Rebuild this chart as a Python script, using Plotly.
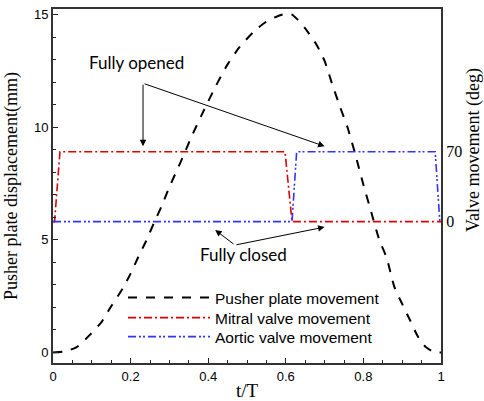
import plotly.graph_objects as go

# ---- data ----
t_pusher = [0, 0.03, 0.06, 0.095, 0.125, 0.15, 0.18, 0.2, 0.22, 0.24, 0.26, 0.28, 0.3,
            0.33, 0.36, 0.39, 0.42, 0.45, 0.48, 0.52, 0.55, 0.58, 0.6, 0.615, 0.63, 0.65,
            0.68, 0.7, 0.72, 0.74, 0.76, 0.78, 0.8, 0.82, 0.84, 0.86, 0.88, 0.9, 0.92,
            0.94, 0.96, 0.98, 1.0]
pusher_mm = [0, 0.05, 0.22, 0.78, 1.35, 2.05, 2.85, 3.5, 4.25, 4.95, 5.75, 6.5, 7.35,
             8.5, 9.7, 10.8, 11.85, 12.8, 13.55, 14.3, 14.7, 14.95, 15.05, 15.02, 14.8, 14.4,
             13.65, 12.95, 11.9, 10.9, 9.95, 8.75, 7.45, 6.25, 5.05, 4.2, 2.9, 2.15, 1.44,
             0.72, 0.25, 0.03, 0]

t_mitral = [0, 0.004, 0.018, 0.598, 0.616, 1.0]
mitral_deg = [0, 0, 70, 70, 0, 0]

t_aortic = [0, 0.616, 0.628, 0.985, 0.997, 1.0]
aortic_deg = [0, 0, 70, 70, 0, 0]

x_ticks = [0, 0.2, 0.4, 0.6, 0.8, 1]
x_ticklabels = ["0", "0.2", "0.4", "0.6", "0.8", "1"]
y_ticks = [0, 5, 10, 15]
y2_ticks = [0, 70]

# axis mapping (left mm <-> right deg)
y_range = [-0.47, 15.26]
mm_closed, mm_open = 5.81, 8.92
deg_per_mm = 70 / (mm_open - mm_closed)
y2_range = [(y_range[0] - mm_closed) * deg_per_mm, (y_range[1] - mm_closed) * deg_per_mm]

fig = go.Figure()
fig.add_trace(go.Scatter(x=t_pusher, y=pusher_mm, mode="lines", name="Pusher plate movement",
                         legend="legend",
                         line=dict(color="black", width=2, dash="9px,9px", shape="spline", smoothing=0.6)))
fig.add_trace(go.Scatter(x=t_mitral, y=mitral_deg, mode="lines", name="Mitral valve movement", yaxis="y2",
                         legend="legend2",
                         line=dict(color="#dd0000", width=1.6, dash="8px,3px,2px,3px")))
fig.add_trace(go.Scatter(x=t_aortic, y=aortic_deg, mode="lines", name="Aortic valve movement", yaxis="y2",
                         legend="legend3",
                         line=dict(color="#3333ff", width=1.6, dash="8px,3px,2px,2px,2px,3px")))

W, H = 484, 401
ml, mr, mt, mb = 53, 43, 9, 38
pw, ph = W - ml - mr, H - mt - mb

arrow = dict(showarrow=True, arrowhead=2, arrowsize=1.3, arrowwidth=1, arrowcolor="black",
             xref="x", yref="y", axref="x", ayref="y", text="")
annotations = [
    dict(x=0.232, y=9.16, ax=0.232, ay=11.96, **arrow),
    dict(x=0.70, y=9.16, ax=0.232, ay=11.96, **arrow),
    dict(x=0.418, y=5.44, ax=0.469, ay=4.77, **arrow),
    dict(x=0.70, y=5.57, ax=0.469, ay=4.77, **arrow),
    dict(x=0.216, y=12.9, xref="x", yref="y", text="Fully opened", showarrow=False,
         font=dict(family="Lato", size=17, color="black")),
    dict(x=0.492, y=4.33, xref="x", yref="y", text="Fully closed", showarrow=False,
         font=dict(family="Lato", size=17, color="black")),
    dict(x=(473 - ml) / pw, y=(H - mb - 150) / ph, xref="paper", yref="paper",
         xanchor="center", yanchor="middle", text="Valve movement (deg)", showarrow=False,
         textangle=-90, font=dict(family="Liberation Serif", size=18, color="black")),
]

legend_rows_px = [298, 318, 337]


def legend_cfg(row_px):
    return dict(x=(123 - ml) / pw, y=(H - mb - row_px) / ph, xanchor="left", yanchor="middle",
                bgcolor="rgba(0,0,0,0)", font=dict(family="Liberation Sans", size=15.5, color="black"),
                itemwidth=82)


fig.update_layout(
    width=W, height=H,
    margin=dict(l=ml, r=mr, t=mt, b=mb),
    plot_bgcolor="white", paper_bgcolor="white",
    showlegend=True,
    legend=legend_cfg(legend_rows_px[0]),
    legend2=legend_cfg(legend_rows_px[1]),
    legend3=legend_cfg(legend_rows_px[2]),
    xaxis=dict(range=[0, 1], tickvals=x_ticks, ticktext=x_ticklabels, ticks="inside", ticklen=5,
               tickcolor="#222", showline=True, linecolor="#333", linewidth=2, mirror=True,
               showgrid=False, zeroline=False, automargin=False,
               minor=dict(dtick=0.05, ticks="inside", ticklen=3, tickcolor="#222"),
               tickfont=dict(family="Liberation Sans", size=13, color="black"),
               title=dict(text="t/T", font=dict(family="Liberation Serif", size=19, color="black"), standoff=10)),
    yaxis=dict(range=y_range, tickvals=y_ticks, ticks="inside", ticklen=5, tickcolor="#222",
               showline=True, linecolor="#333", linewidth=2, showgrid=False, zeroline=False,
               automargin=False,
               minor=dict(dtick=1, ticks="inside", ticklen=3, tickcolor="#222"),
               tickfont=dict(family="Liberation Sans", size=13, color="black"),
               title=dict(text="Pusher plate displacement(mm)",
                          font=dict(family="Liberation Serif", size=18, color="black"), standoff=12)),
    yaxis2=dict(range=y2_range, overlaying="y", side="right", tickvals=y2_ticks, ticks="",
                showline=True, linecolor="#333", linewidth=2, showgrid=False, zeroline=False,
                automargin=False,
                tickfont=dict(family="Liberation Serif", size=16, color="black")),
    annotations=annotations,
)

fig.write_html("out.html")
